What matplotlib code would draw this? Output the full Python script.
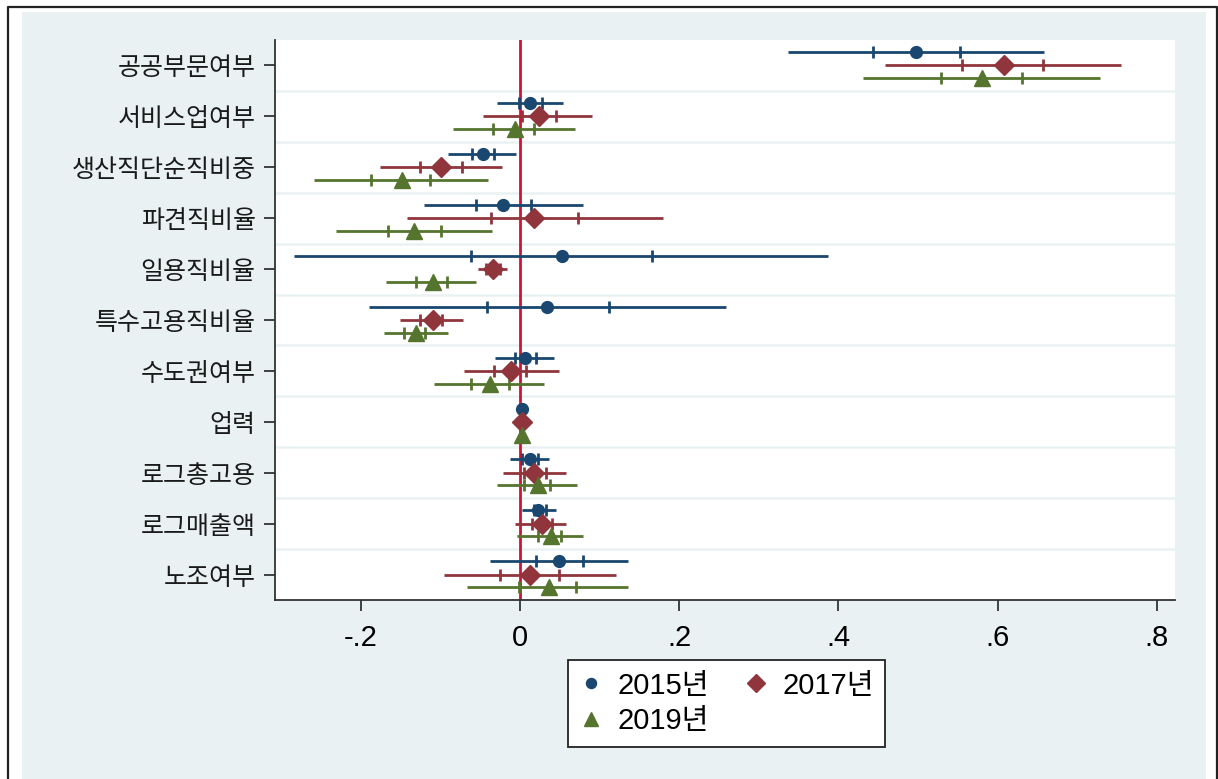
import matplotlib.pyplot as plt
from matplotlib.lines import Line2D
from matplotlib.patches import Rectangle

# 변수 이름 (위에서 아래 순서)
labels = ['공공부문여부', '서비스업여부', '생산직단순직비중', '파견직비율', '일용직비율',
          '특수고용직비율', '수도권여부', '업력', '로그총고용', '로그매출액', '노조여부']

# 연도별 계수, 95% 구간, 90% 구간
b_2015 = [0.497, 0.012, -0.047, -0.021, 0.053, 0.034, 0.006, 0.003, 0.013, 0.023, 0.049]
lo95_2015 = [0.337, -0.029, -0.090, -0.121, -0.284, -0.190, -0.031, 0.001, -0.013, 0.003, -0.038]
hi95_2015 = [0.658, 0.054, -0.005, 0.079, 0.387, 0.259, 0.043, 0.005, 0.036, 0.045, 0.136]
lo90_2015 = [0.443, -0.001, -0.061, -0.055, -0.062, -0.041, -0.006, 0.002, 0.002, 0.017, 0.020]
hi90_2015 = [0.553, 0.027, -0.033, 0.014, 0.166, 0.112, 0.020, 0.004, 0.023, 0.032, 0.079]

b_2017 = [0.608, 0.024, -0.099, 0.018, -0.034, -0.110, -0.011, 0.002, 0.018, 0.028, 0.013]
lo95_2017 = [0.459, -0.046, -0.176, -0.142, -0.053, -0.151, -0.071, 0.000, -0.021, -0.006, -0.095]
hi95_2017 = [0.755, 0.090, -0.023, 0.179, -0.016, -0.072, 0.049, 0.004, 0.058, 0.058, 0.120]
lo90_2017 = [0.555, 0.003, -0.126, -0.036, -0.043, -0.126, -0.033, 0.001, 0.005, 0.015, -0.025]
hi90_2017 = [0.657, 0.045, -0.073, 0.073, -0.025, -0.098, 0.008, 0.003, 0.032, 0.040, 0.049]

b_2019 = [0.581, -0.007, -0.149, -0.133, -0.110, -0.131, -0.038, 0.002, 0.022, 0.039, 0.036]
lo95_2019 = [0.431, -0.084, -0.259, -0.231, -0.168, -0.171, -0.108, 0.000, -0.029, -0.004, -0.067]
hi95_2019 = [0.729, 0.069, -0.040, -0.035, -0.055, -0.090, 0.030, 0.004, 0.071, 0.079, 0.136]
lo90_2019 = [0.529, -0.034, -0.187, -0.166, -0.131, -0.146, -0.062, 0.001, 0.005, 0.023, -0.001]
hi90_2019 = [0.631, 0.018, -0.113, -0.100, -0.092, -0.119, -0.014, 0.003, 0.038, 0.052, 0.070]

xticks = [-0.2, 0, 0.2, 0.4, 0.6, 0.8]
xticklabels = ['-.2', '0', '.2', '.4', '.6', '.8']

W, H = 1218, 779
BG = '#eaf1f3'
navy, maroon, green = '#1a476f', '#90353b', '#55752f'

fig = plt.figure(figsize=(W / 100, H / 100), dpi=100, facecolor='white')
# 배경 영역 + 테두리
fig.patches.append(Rectangle((22 / W, 0), (1206 - 22) / W, 1 - 12 / H,
                             transform=fig.transFigure, facecolor=BG, edgecolor='none', zorder=-10))
fig.add_artist(Line2D([8 / W, 8 / W, 1216.5 / W, 1216.5 / W], [0, 1 - 7 / H, 1 - 7 / H, 0],
                      transform=fig.transFigure, color='#222222', lw=1.6))

ax = fig.add_axes([275 / W, (H - 600) / H, 900 / W, 560 / H])
ax.set_facecolor('white')
for s in ['top', 'right']:
    ax.spines[s].set_visible(False)
for s in ['left', 'bottom']:
    ax.spines[s].set_color('#333333')
    ax.spines[s].set_linewidth(1.3)

n = len(labels)
ypos = list(range(1, n + 1))
for g in range(1, n):
    ax.axhline(g + 0.5, color=BG, lw=1.8, zorder=1)
ax.axvline(0, color='#cc1438', lw=2.0, zorder=2)

series = [
    (b_2015, lo95_2015, hi95_2015, lo90_2015, hi90_2015, navy, 'o', 8.5, -0.26, '2015년'),
    (b_2017, lo95_2017, hi95_2017, lo90_2017, hi90_2017, maroon, 'D', 10.5, 0.0, '2017년'),
    (b_2019, lo95_2019, hi95_2019, lo90_2019, hi90_2019, green, '^', 11.5, 0.25, '2019년'),
]
handles = []
for b, lo95, hi95, lo90, hi90, col, mk, ms, off, lab in series:
    yy = [y + off for y in ypos]
    ax.hlines(yy, lo95, hi95, color=col, lw=2.0, zorder=3)
    ax.plot(lo90, yy, ls='none', marker='|', ms=8, mew=2.0, color=col, zorder=3)
    ax.plot(hi90, yy, ls='none', marker='|', ms=8, mew=2.0, color=col, zorder=3)
    ax.plot(b, yy, ls='none', marker=mk, ms=ms, color=col, mec=col, zorder=4)
    handles.append(Line2D([], [], ls='none', marker=mk, ms=ms * 0.85, color=col, label=lab))

ax.set_xlim(-0.308, 0.823)
ax.set_ylim(n + 0.5, 0.5)
ax.set_xticks(xticks)
ax.set_xticklabels(xticklabels, fontsize=21, family=['Liberation Sans', 'DejaVu Sans'])
ax.set_yticks(ypos)
ax.set_yticklabels(labels, fontsize=18, family=['Noto Sans CJK KR', 'DejaVu Sans'], color='#1a1a1a')
ax.tick_params(axis='both', length=8, width=1.3, color='#333333')
ax.tick_params(axis='x', pad=9)
ax.tick_params(axis='y', pad=6)

leg = fig.legend([handles[0], handles[2], handles[1]],
                 [handles[0].get_label(), handles[2].get_label(), handles[1].get_label()],
                 loc='upper left', bbox_to_anchor=(568 / W, 1 - 660 / H), ncol=2,
                 frameon=True, fancybox=False, edgecolor='#222222', facecolor='white',
                 framealpha=1, handlelength=0.8, handletextpad=0.5, columnspacing=1.2,
                 labelspacing=0.25, borderpad=0.4, borderaxespad=0,
                 prop={'family': ['Liberation Sans', 'Noto Sans CJK KR'], 'size': 21})
leg.get_frame().set_linewidth(1.3)

fig.savefig('out.png', dpi=100, facecolor=fig.get_facecolor())
